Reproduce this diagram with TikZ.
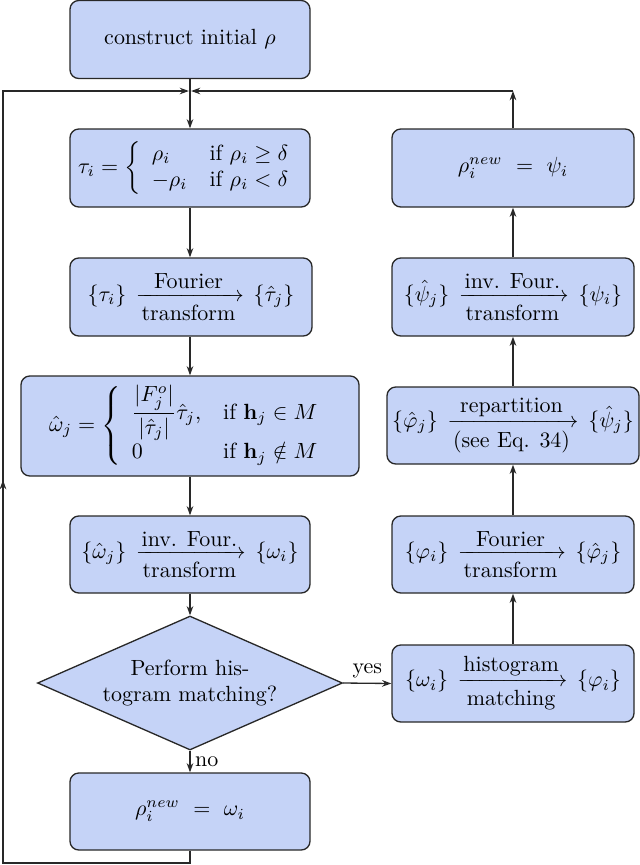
\documentclass[tikz,border=0pt]{standalone}
\usepackage{amsmath,amssymb}
\usetikzlibrary{shapes.geometric,arrows.meta}
\definecolor{boxfill}{RGB}{197,211,247}
\definecolor{linecol}{RGB}{40,40,40}
\newcommand{\tfarrow}[2]{\,\xrightarrow[\mbox{#2}]{\mbox{#1}}\,}
\begin{document}
\begin{tikzpicture}[x=0.455pt,y=-0.455pt,
  box/.style n args={2}{draw=linecol, fill=boxfill, rounded corners=4pt, semithick,
    minimum width=#1*0.455pt, minimum height=#2*0.455pt, inner sep=1pt, align=center},
  dia/.style={diamond, draw=linecol, fill=boxfill, semithick, aspect=2.3, inner sep=0pt,
    minimum width=305*0.455pt, minimum height=134*0.455pt, align=center},
  arr/.style={-{Stealth[length=4.2pt,width=3pt]}, semithick, draw=linecol},
  ln/.style={semithick, draw=linecol}]
\useasboundingbox (0,0) rectangle (640,865);

% left column
\node[box={240}{78}] (init) at (190,39.5) {construct initial $\rho$};
\node[box={240}{78}] (tau) at (190,168)
  {$\tau_i = \left\{\begin{array}{ll} \rho_i & \mbox{if } \rho_i \geq \delta \\ -\rho_i & \mbox{if } \rho_i < \delta\end{array}\right.$};
\node[box={242}{78}] (four) at (191,297)
  {$\{\tau_i\} \tfarrow{Fourier}{transform} \{\hat{\tau}_j\}$};
\node[box={338}{100}] (ohat) at (190,426)
  {$\displaystyle \hat{\omega}_j = \left\{\begin{array}{ll} \dfrac{|F^o_j|}{|\hat{\tau}_j|}\hat{\tau}_j, & \mbox{if } \mathbf{h}_j \in M \\ 0 & \mbox{if } \mathbf{h}_j \notin M\end{array}\right.$};
\node[box={240}{77}] (ifour) at (190,554.5)
  {$\{\hat{\omega}_j\} \tfarrow{inv. Four.}{transform} \{\omega_i\}$};
\node[dia] (dec) at (190,683) {Perform his-\\togram matching?};
\node[box={240}{77}] (rw) at (190,811.5) {$\rho_i^{new} \ = \ \omega_i$};

% right column
\node[box={242}{78}] (psi) at (513,168) {$\rho_i^{new} \ = \ \psi_i$};
\node[box={242}{78}] (ipsi) at (513,297)
  {$\{\hat{\psi}_j\} \tfarrow{inv. Four.}{transform} \{\psi_i\}$};
\node[box={252}{77}] (rep) at (513,425.5)
  {$\{\hat{\varphi}_j\} \tfarrow{repartition}{(see Eq. 34)} \{\hat{\psi}_j\}$};
\node[box={242}{77}] (fphi) at (513,554.5)
  {$\{\varphi_i\} \tfarrow{Fourier}{transform} \{\hat{\varphi}_j\}$};
\node[box={242}{77}] (hist) at (513,683.5)
  {$\{\omega_i\} \tfarrow{histogram}{matching} \{\varphi_i\}$};

% helper coordinates
\coordinate (merge) at (190,91);
\coordinate (rc) at (513,91);
\coordinate (b1) at (190,863);
\coordinate (b2) at (3,863);
\coordinate (lm) at (3,480);

% connectors
\draw[ln] (init.south) -- (merge);
\draw[arr] (merge) -- (tau.north);
\draw[arr] (tau.south) -- (four.north -| tau.south);
\draw[arr] (four.south -| tau.south) -- (ohat.north);
\draw[arr] (ohat.south) -- (ifour.north);
\draw[arr] (ifour.south) -- (dec.north);
\draw[arr] (dec.south) -- node[right, inner sep=2pt] {no} (rw.north);
\draw[arr] (dec.east) -- node[above, inner sep=2pt] {yes} (hist.west);
\draw[arr] (hist.north) -- (fphi.south);
\draw[arr] (fphi.north) -- (rep.south);
\draw[arr] (rep.north) -- (ipsi.south);
\draw[arr] (ipsi.north) -- (psi.south);
\draw[arr] (psi.north) -- (rc);
\draw[arr] (rc) -- ([xshift=0.5pt]merge);
\draw[ln] (rw.south) -- (b1) -- (b2) -- (lm);
\draw[arr] (b2) -- (lm);
\draw[arr] (lm) |- ([xshift=-0.5pt]merge);
\end{tikzpicture}
\end{document}
